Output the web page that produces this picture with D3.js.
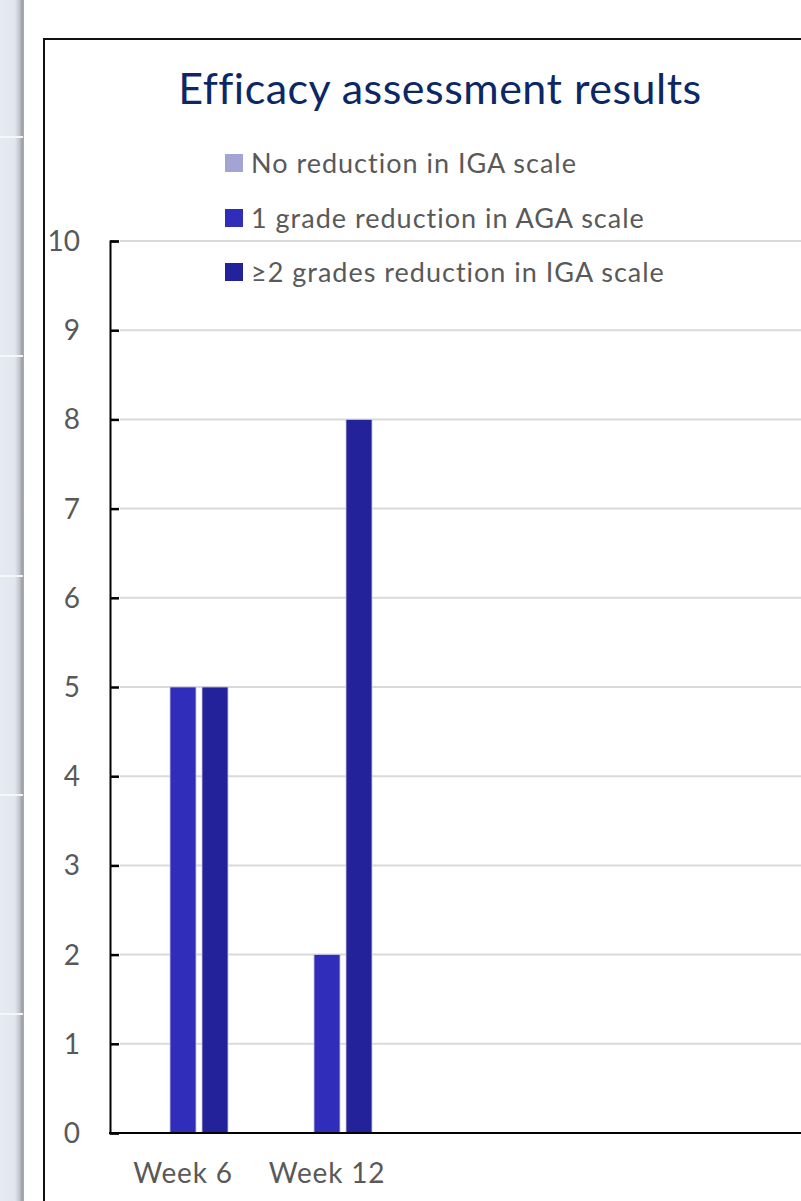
<!DOCTYPE html>
<html>
<head>
<meta charset="utf-8">
<script src="https://cdn.jsdelivr.net/npm/d3@7"></script>
<style>
  html, body { margin: 0; padding: 0; background: #ffffff; }
  svg { display: block; }
  text { font-family: Lato, "Open Sans", sans-serif; }
</style>
</head>
<body>
<svg id="chart" width="801" height="1201"></svg>
<script>
// Chart data
const categories = ["Week 6", "Week 12"];
const seriesNames = [
  "No reduction in IGA scale",
  "1 grade reduction in AGA scale",
  "\u22652 grades reduction in IGA scale"
];
const noReduction = [0, 0];
const oneGrade = [5, 2];
const twoPlusGrades = [5, 8];
const yTicks = [0, 1, 2, 3, 4, 5, 6, 7, 8, 9, 10];
const seriesColors = ["#a4a4d4", "#2f2db9", "#23229a"];

const seriesValues = [noReduction, oneGrade, twoPlusGrades];

const svg = d3.select("#chart");
const W = 801, H = 1201;

// Side panel strip on the left edge
const defs = svg.append("defs");
const grad = defs.append("linearGradient").attr("id", "strip").attr("x1", "0").attr("x2", "1");
grad.append("stop").attr("offset", "0").attr("stop-color", "#e5eaf3");
grad.append("stop").attr("offset", "0.62").attr("stop-color", "#e1e6ef");
grad.append("stop").attr("offset", "0.8").attr("stop-color", "#c4c8d0");
grad.append("stop").attr("offset", "0.92").attr("stop-color", "#9c9fa6");
grad.append("stop").attr("offset", "1").attr("stop-color", "#a9acb2");
svg.append("rect").attr("x", 0).attr("y", 0).attr("width", 24).attr("height", H).attr("fill", "url(#strip)");
const stripLines = [137, 356, 576, 795, 1014];
svg.selectAll("line.strip").data(stripLines).join("line")
  .attr("x1", 0).attr("x2", 23).attr("y1", d => d).attr("y2", d => d)
  .attr("stroke", "#f4f6f9").attr("stroke-width", 2);

// Chart frame
svg.append("rect")
  .attr("x", 44).attr("y", 39).attr("width", W + 20).attr("height", H + 20)
  .attr("fill", "#ffffff").attr("stroke", "#111111").attr("stroke-width", 2);

// Title
svg.append("text")
  .attr("x", 440).attr("y", 104)
  .attr("text-anchor", "middle")
  .attr("fill", "#0c2766")
  .style("font-size", "43px")
  .style("letter-spacing", "0.5px")
  .text("Efficacy assessment results");

// Scales
const plotLeft = 111, plotBottom = 1133, plotTop = 241;
const y = d3.scaleLinear().domain([0, 10]).range([plotBottom, plotTop]);
const x0 = d3.scaleBand().domain(categories)
  .range([plotLeft, plotLeft + 144 * categories.length])
  .paddingInner(0.375).paddingOuter(0.1875);
const x1 = d3.scaleBand().domain(d3.range(seriesNames.length))
  .range([0, x0.bandwidth()])
  .paddingInner(0.1875).paddingOuter(0);

// Gridlines
svg.append("g").selectAll("line").data(yTicks.filter(d => d > 0)).join("line")
  .attr("x1", plotLeft + 9).attr("x2", W)
  .attr("y1", d => y(d)).attr("y2", d => y(d))
  .attr("stroke", "#d9d9d9").attr("stroke-width", 2);

// Bars
const groups = svg.append("g").selectAll("g").data(categories).join("g")
  .attr("transform", d => `translate(${x0(d)},0)`);
groups.selectAll("rect")
  .data((c, ci) => seriesValues.map((vals, si) => ({ si, v: vals[ci] })))
  .join("rect")
  .filter(d => d.v > 0)
  .attr("x", d => x1(d.si))
  .attr("width", x1.bandwidth())
  .attr("y", d => y(d.v))
  .attr("height", d => y(0) - y(d.v))
  .attr("fill", d => seriesColors[d.si])
  .attr("stroke", "#c9c9e6").attr("stroke-width", 0.8);

// Y axis
const yAxis = d3.axisRight(y).tickValues(yTicks).tickSize(9).tickFormat("");
const yg = svg.append("g").attr("transform", `translate(${plotLeft - 1},0)`).call(yAxis);
yg.select(".domain").attr("stroke", "#000").attr("stroke-width", 2);
yg.selectAll(".tick line").attr("stroke", "#000").attr("stroke-width", 2.5);

svg.append("g").selectAll("text").data(yTicks).join("text")
  .attr("x", 80).attr("y", d => y(d))
  .attr("dy", "0.36em")
  .attr("text-anchor", "end")
  .attr("fill", "#595959")
  .style("font-size", "28px")
  .text(d => d);

// X axis
const xg = svg.append("g").attr("transform", `translate(0,${plotBottom})`);
xg.append("line").attr("x1", plotLeft - 2).attr("x2", W)
  .attr("stroke", "#000").attr("stroke-width", 2);
xg.selectAll("text").data(categories).join("text")
  .attr("x", d => x0(d) + x0.bandwidth() / 2)
  .attr("y", 50)
  .attr("text-anchor", "middle")
  .attr("fill", "#595959")
  .style("font-size", "28px")
  .style("letter-spacing", "0.8px")
  .text(d => d);

// Legend
const legend = svg.append("g").attr("transform", "translate(225,0)");
const legendRows = [163, 218, 272];
const lg = legend.selectAll("g").data(seriesNames).join("g")
  .attr("transform", (d, i) => `translate(0,${legendRows[i]})`);
lg.append("rect").attr("x", 0).attr("y", -9).attr("width", 18).attr("height", 18)
  .attr("fill", (d, i) => seriesColors[i]);
lg.append("text").attr("x", 26).attr("y", 0).attr("dy", "0.36em")
  .attr("fill", "#595959")
  .style("font-size", "27px")
  .style("letter-spacing", "1px")
  .text(d => d);
</script>
</body>
</html>
